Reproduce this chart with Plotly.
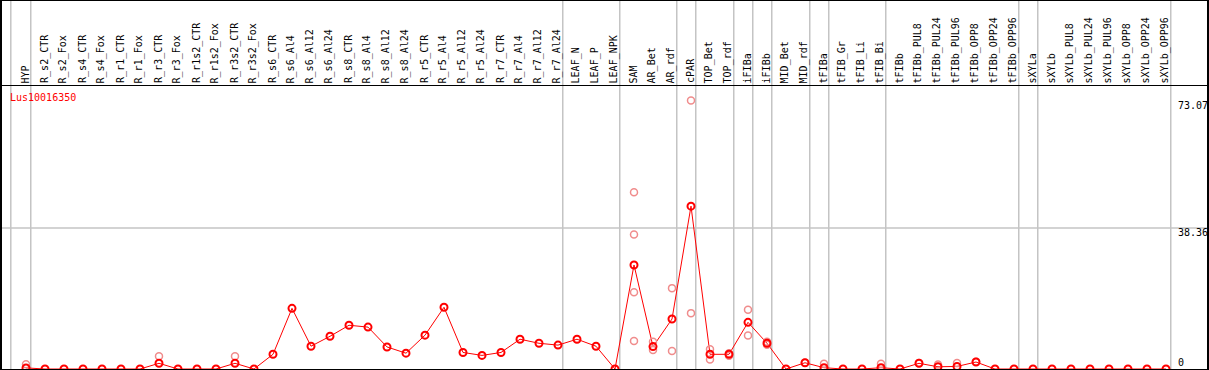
import plotly.graph_objects as go

categories = [
    "HYP", "R_s2_CTR", "R_s2_Fox", "R_s4_CTR", "R_s4_Fox", "R_r1_CTR", "R_r1_Fox",
    "R_r3_CTR", "R_r3_Fox", "R_r1s2_CTR", "R_r1s2_Fox", "R_r3s2_CTR", "R_r3s2_Fox",
    "R_s6_CTR", "R_s6_Al4", "R_s6_Al12", "R_s6_Al24", "R_s8_CTR", "R_s8_Al4",
    "R_s8_Al12", "R_s8_Al24", "R_r5_CTR", "R_r5_Al4", "R_r5_Al12", "R_r5_Al24",
    "R_r7_CTR", "R_r7_Al4", "R_r7_Al12", "R_r7_Al24", "LEAF_N", "LEAF_P", "LEAF_NPK",
    "SAM", "AR_Bet", "AR_rdf", "cPAR", "TOP_Bet", "TOP_rdf", "iFIBa", "iFIBb",
    "MID_Bet", "MID_rdf", "tFIBa", "tFIB_Gr", "tFIB_Li", "tFIB_Bi", "tFIBb",
    "tFIBb_PUL8", "tFIBb_PUL24", "tFIBb_PUL96", "tFIBb_OPP8", "tFIBb_OPP24", "tFIBb_OPP96",
    "sXYLa", "sXYLb", "sXYLb_PUL8", "sXYLb_PUL24", "sXYLb_PUL96", "sXYLb_OPP8",
    "sXYLb_OPP24", "sXYLb_OPP96",
]

mean_values = [
    0.3, 0, 0, 0, 0, 0, 0, 1.55, 0, 0, 0, 1.55, 0,
    4.0, 16.5, 6.2, 8.9, 11.9, 11.4, 6.0, 4.3, 9.2, 16.8, 4.5, 3.7,
    4.5, 8.1, 7.0, 6.5, 8.1, 6.2, 0,
    28.3, 6.1, 13.6, 44.3, 4.0, 4.0, 12.7, 7.0,
    0, 1.7, 0.35, 0, 0, 0.35, 0,
    1.55, 0.6, 0.7, 1.9, 0, 0,
    0, 0, 0, 0, 0, 0, 0, 0,
]

replicate_values = {
    "HYP": [1.3],
    "R_r3_CTR": [3.5],
    "R_r3s2_CTR": [3.5],
    "SAM": [48.1, 36.6, 20.9, 7.6],
    "AR_Bet": [7.4, 5.2],
    "AR_rdf": [22.0, 4.9],
    "cPAR": [73.07, 15.2],
    "TOP_Bet": [5.4, 2.6],
    "TOP_rdf": [4.3, 3.6],
    "iFIBa": [16.1, 9.1],
    "iFIBb": [7.4, 6.6],
    "MID_rdf": [1.7],
    "tFIBa": [1.4],
    "tFIB_Bi": [1.4],
    "tFIBb_PUL8": [1.6],
    "tFIBb_PUL24": [1.2],
    "tFIBb_PUL96": [1.6],
    "tFIBb_OPP8": [2.0],
}

y_tick_values = [0, 38.36, 73.07]
y_tick_labels = ["0", "38.36", "73.07"]
gene_name = "Lus10016350"

# group separators: drawn after these category names
group_ends = ["HYP", "R_r7_Al24", "LEAF_NPK", "AR_rdf", "cPAR", "TOP_rdf", "iFIBa",
              "iFIBb", "MID_rdf", "tFIBa", "tFIB_Bi", "tFIBb_OPP96", "sXYLa", "sXYLb_OPP96"]

W, H = 1209, 370
px_per_cat = 19.0
first_px = 26.0
x0 = -first_px / px_per_cat
x1 = x0 + W / px_per_cat
zero_px, px_per_unit = 369.0, 141.0 / 38.36
y_lo = -(H - zero_px) / px_per_unit
y_hi = zero_px / px_per_unit

def py(p):
    return 1 - p / H

def px(p):
    return p / W

idx = list(range(len(categories)))
rx, ry = [], []
for i, c in enumerate(categories):
    for v in replicate_values.get(c, []):
        rx.append(i)
        ry.append(v)

fig = go.Figure()
fig.add_trace(go.Scatter(x=idx, y=mean_values, mode="lines",
                         line=dict(color="#ff0000", width=1), hoverinfo="skip"))
fig.add_trace(go.Scatter(x=rx, y=ry, mode="markers",
                         marker=dict(symbol="circle-open", size=7, color="#f08c8c",
                                     line=dict(width=1.5, color="#f08c8c"))))
fig.add_trace(go.Scatter(x=idx, y=mean_values, mode="markers",
                         marker=dict(symbol="circle-open", size=7, color="#ff0000",
                                     line=dict(width=2, color="#ff0000"))))

shapes = []
# separators
shapes.append(dict(type="line", xref="x", yref="paper", x0=-0.8, x1=-0.8, y0=0, y1=1,
                   line=dict(color="#c4c4c4", width=1.5), layer="below"))
for name in group_ends:
    xi = categories.index(name) + 0.25
    shapes.append(dict(type="line", xref="x", yref="paper", x0=xi, x1=xi, y0=0, y1=1,
                       line=dict(color="#c4c4c4", width=1.5), layer="below"))
shapes.append(dict(type="line", xref="paper", yref="y", x0=0, x1=1, y0=y_tick_values[1],
                   y1=y_tick_values[1], line=dict(color="#c4c4c4", width=1.5), layer="below"))
# frame
blk = dict(color="black", width=1)
shapes += [
    dict(type="line", xref="paper", yref="paper", x0=px(1), x1=px(1), y0=0, y1=1, line=dict(color="black", width=2)),
    dict(type="line", xref="paper", yref="paper", x0=px(1208), x1=px(1208), y0=0, y1=1, line=dict(color="black", width=2)),
    dict(type="line", xref="paper", yref="paper", x0=0, x1=1, y0=py(0.5), y1=py(0.5), line=blk),
    dict(type="line", xref="paper", yref="paper", x0=0, x1=1, y0=py(85.5), y1=py(85.5), line=blk),
    dict(type="line", xref="paper", yref="paper", x0=0, x1=1, y0=py(369.5), y1=py(369.5), line=blk),
]

mono = "DejaVu Sans Mono"
annotations = []
for i, c in enumerate(categories):
    annotations.append(dict(x=i - 0.03, y=py(84), xref="x", yref="paper", text=c,
                            textangle=-90, showarrow=False, xanchor="center", yanchor="bottom",
                            borderpad=0, font=dict(family=mono, size=10, color="black")))
label_centers = [362, 232, 106]
for v, t, yc in zip(y_tick_values, y_tick_labels, label_centers):
    annotations.append(dict(x=px(1177), y=py(yc), xref="paper", yref="paper", text=t,
                            showarrow=False, xanchor="left", yanchor="middle", borderpad=0,
                            font=dict(family=mono, size=10, color="black")))
annotations.append(dict(x=px(9), y=py(97.5), xref="paper", yref="paper", text=gene_name,
                        showarrow=False, xanchor="left", yanchor="middle", borderpad=0,
                        font=dict(family=mono, size=10, color="#ff0000")))

fig.update_layout(
    width=W, height=H, margin=dict(l=0, r=0, t=0, b=0),
    paper_bgcolor="white", plot_bgcolor="white", showlegend=False,
    xaxis=dict(range=[x0, x1], visible=False, fixedrange=True),
    yaxis=dict(range=[y_lo, y_hi], visible=False, fixedrange=True),
    shapes=shapes, annotations=annotations,
)
fig.write_html("out.html", config={"displayModeBar": False},
               post_script="document.body.style.margin='0';document.body.style.overflow='hidden';")
